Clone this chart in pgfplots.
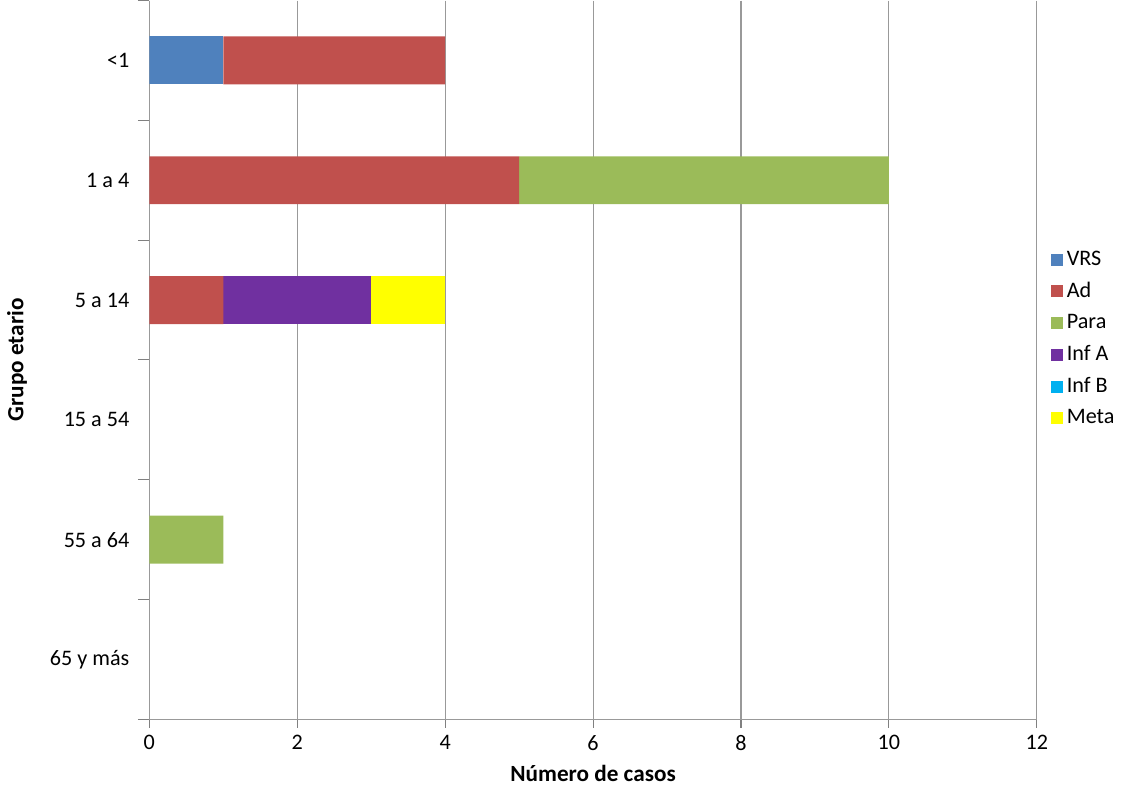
\documentclass[border=0pt]{standalone}
\usepackage{pgfplots}
\pgfplotsset{compat=1.18}
\usepackage{fontspec}
\setmainfont{Carlito}
\definecolor{cvrs}{HTML}{4F81BD}
\definecolor{cad}{HTML}{C0504D}
\definecolor{cpara}{HTML}{9BBB59}
\definecolor{cinfa}{HTML}{7030A0}
\definecolor{cinfb}{HTML}{00B0F0}
\definecolor{cmeta}{HTML}{FFFF00}
\begin{document}
\begin{tikzpicture}
\begin{axis}[
 scale only axis, width=421pt, height=341pt,
 xbar stacked, bar width=0.4,
 xmin=0, xmax=12, xtick={0,2,...,12},
 ymin=-0.5, ymax=5.5, y dir=reverse,
 ytick={0,...,5}, yticklabels={{<1},{1 a 4},{5 a 14},{15 a 54},{55 a 64},{65 y más}},
 major y tick style={draw=none},
 minor ytick={-0.5,0.5,1.5,2.5,3.5,4.5,5.5},
 minor y tick style={gray, line width=0.5pt},
 minor tick length=5.5pt,
 tick align=outside,
 axis x line*=bottom, axis y line*=left,
 axis line style={gray!80, -},
 x tick style={gray, line width=0.5pt}, major tick length=4pt,
 xmajorgrids, grid style={gray!80, line width=0.5pt},
 tick label style={font=\fontsize{10.5}{12}\selectfont},
 yticklabel style={xshift=-2pt},
 /pgf/number format/assume math mode=true,
 xlabel={\textbf{Número de casos}}, ylabel={\textbf{Grupo etario}},
 label style={font=\fontsize{11}{13}\selectfont},
 ylabel style={yshift=4pt},
 legend style={at={(1.008,0.664)}, anchor=north west, draw=none, fill=none,
   font=\fontsize{10.5}{12}\selectfont, row sep=2.5pt},
 legend cell align=left,
 legend image code/.code={\fill[#1] (0cm,-0.1cm) rectangle (0.2cm,0.1cm);},
]
\addplot[fill=cvrs, draw=none] coordinates {(1,0) (0,1) (0,2) (0,3) (0,4) (0,5)};
\addplot[fill=cad, draw=none] coordinates {(3,0) (5,1) (1,2) (0,3) (0,4) (0,5)};
\addplot[fill=cpara, draw=none] coordinates {(0,0) (5,1) (0,2) (0,3) (1,4) (0,5)};
\addplot[fill=cinfa, draw=none] coordinates {(0,0) (0,1) (2,2) (0,3) (0,4) (0,5)};
\addplot[fill=cinfb, draw=none] coordinates {(0,0) (0,1) (0,2) (0,3) (0,4) (0,5)};
\addplot[fill=cmeta, draw=none] coordinates {(0,0) (0,1) (1,2) (0,3) (0,4) (0,5)};
\legend{VRS,Ad,Para,Inf A,Inf B,Meta}
\end{axis}
\end{tikzpicture}
\end{document}
